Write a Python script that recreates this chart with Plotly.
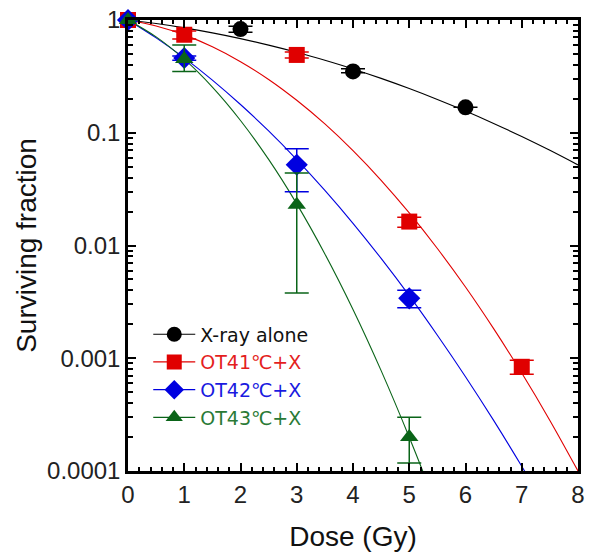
import plotly.graph_objects as go

# ---- data ----
xray_dose = [0, 2, 4, 6]
xray_sf = [1.0, 0.83, 0.35, 0.168]
xray_hi = [1.0, 0.88, 0.37, 0.168]
xray_lo = [1.0, 0.78, 0.34, 0.168]

ot41_dose = [0, 1, 3, 5, 7]
ot41_sf = [1.0, 0.74, 0.49, 0.0163, 0.00084]
ot41_hi = [1.0, 0.80, 0.52, 0.0178, 0.00096]
ot41_lo = [1.0, 0.68, 0.46, 0.0145, 0.00072]

ot42_dose = [0, 1, 3, 5]
ot42_sf = [1.0, 0.46, 0.052, 0.0034]
ot42_hi = [1.0, 0.48, 0.072, 0.0040]
ot42_lo = [1.0, 0.44, 0.030, 0.0028]

ot43_dose = [0, 1, 3, 5]
ot43_sf = [1.0, 0.45, 0.023, 0.0002]
ot43_hi = [1.0, 0.60, 0.044, 0.0003]
ot43_lo = [1.0, 0.35, 0.0038, 0.000118]

# fitted curves, every 0.5 Gy
curve_dose = [0, 0.5, 1, 1.5, 2, 2.5, 3, 3.5, 4, 4.5, 5, 5.5, 6, 6.5, 7, 7.5, 8]
xray_curve = [1.0, 0.930, 0.852, 0.769, 0.684, 0.599, 0.517, 0.439, 0.368,
              0.3035, 0.2466, 0.1974, 0.1557, 0.1209, 0.0926, 0.0698, 0.0518]
ot41_curve = [1.0, 0.885, 0.738, 0.579, 0.427, 0.297, 0.194, 0.1197, 0.0694,
              0.0379, 0.01945, 0.0094, 0.00428, 0.00183, 0.000739, 0.000281, 0.0001]
ot42_curve = [1.0, 0.694, 0.461, 0.293, 0.178, 0.1038, 0.0578, 0.0308, 0.01574,
              0.00768, 0.00359, 0.0016, 0.000686, 0.000281, 0.00011, 0.0000413, 0.000015]
ot43_curve = [1.0, 0.709, 0.449, 0.254, 0.1285, 0.058, 0.0234, 0.00842, 0.00271,
              0.000777, 0.000199, 0.0000457, 0.000009, 0.0000015, 0.0000002, 0.00000003, 0.000000004]

names = ["X-ray alone", "OT41℃+X", "OT42℃+X", "OT43℃+X"]
colors = ["#000000", "#e00000", "#0000e0", "#0a6418"]
text_colors = ["#111111", "#e41e1e", "#1a1ae0", "#2a7a36"]
symbols = ["circle", "square", "diamond", "triangle-up"]
sizes = [16, 16, 17, 16]

series = [
    (xray_dose, xray_sf, xray_hi, xray_lo, xray_curve),
    (ot41_dose, ot41_sf, ot41_hi, ot41_lo, ot41_curve),
    (ot42_dose, ot42_sf, ot42_hi, ot42_lo, ot42_curve),
    (ot43_dose, ot43_sf, ot43_hi, ot43_lo, ot43_curve),
]

fig = go.Figure()
FONT = "Liberation Sans, Arial, sans-serif"
LEG_FONT = "DejaVu Sans, sans-serif"

for i, (d, sf, hi, lo, cv) in enumerate(series):
    fig.add_trace(go.Scatter(
        x=curve_dose, y=cv, mode="lines",
        line=dict(color=colors[i], width=1.1, shape="spline"),
        showlegend=False, hoverinfo="skip"))
for i, (d, sf, hi, lo, cv) in enumerate(series):
    fig.add_trace(go.Scatter(
        x=d, y=sf, mode="markers",
        marker=dict(symbol=symbols[i], size=sizes[i], color=colors[i]),
        error_y=dict(type="data", symmetric=False,
                     array=[h - s for h, s in zip(hi, sf)],
                     arrayminus=[s - l for s, l in zip(sf, lo)],
                     color=colors[i], thickness=1.5, width=12),
        cliponaxis=False, showlegend=False))
for i in range(4):
    fig.add_trace(go.Scatter(
        x=[None], y=[None], mode="lines+markers",
        name=f"<span style='color:{text_colors[i]}'>{names[i]}</span>",
        line=dict(color=colors[i], width=1.2),
        marker=dict(symbol=symbols[i], size=15, color=colors[i])))

minor_y = [m * 10 ** e for e in range(-4, 0) for m in range(2, 10)]

fig.update_layout(
    width=594, height=552,
    margin=dict(l=128, r=16, t=20, b=81),
    paper_bgcolor="white", plot_bgcolor="white",
    font=dict(family=FONT, color="#222222"),
    legend=dict(x=0.045, y=0.345, xanchor="left", yanchor="top",
                bgcolor="rgba(0,0,0,0)", font=dict(size=19, family=LEG_FONT),
                tracegroupgap=0, itemwidth=42),
    xaxis=dict(
        range=[0, 8], showgrid=False, zeroline=False, automargin=False,
        showline=True, linecolor="black", linewidth=2.5, mirror="ticks",
        ticks="inside", ticklen=8, tickwidth=2, tickcolor="black",
        tickvals=[0, 1, 2, 3, 4, 5, 6, 7, 8],
        tickfont=dict(size=24, family=FONT, color="#222222"),
        minor=dict(ticks="inside", ticklen=4, tickwidth=1.5, tickcolor="black", dtick=0.2),
        title=dict(text="Dose (Gy)", font=dict(size=28, family=FONT, color="#111111"), standoff=22),
    ),
    yaxis=dict(
        type="log", range=[-4, 0], showgrid=False, zeroline=False, automargin=False,
        showline=True, linecolor="black", linewidth=2.5, mirror="ticks",
        ticks="inside", ticklen=8, tickwidth=2, tickcolor="black",
        tickvals=[0.0001, 0.001, 0.01, 0.1, 1],
        ticktext=["0.0001", "0.001", "0.01", "0.1", "1"],
        tickfont=dict(size=24, family=FONT, color="#222222"),
        minor=dict(ticks="inside", ticklen=5, tickwidth=1.5, tickcolor="black", tickvals=minor_y),
        title=dict(text="Surviving fraction", font=dict(size=28, family=FONT, color="#111111"), standoff=3),
    ),
)

fig.write_html("out.html")
